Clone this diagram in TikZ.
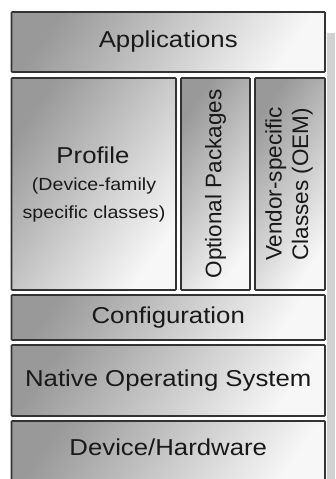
\documentclass[tikz,border=0pt]{standalone}
\usepackage{fontspec}
\setmainfont{Liberation Sans}
\usetikzlibrary{positioning}

% horizontally widened label text
\newcommand{\widetext}[1]{\scalebox{1.12}[1]{#1}}

\tikzset{
  layer/.style={
    draw=black!80, line width=1.6pt, rounded corners=0.8pt,
    top color=black!40, bottom color=black!3, shading angle=55,
    inner sep=0pt, text=black!90, align=center
  },
  bigtext/.style={font=\fontsize{23}{27}\selectfont, text=black!90},
  subtext/.style={font=\fontsize{17.5}{21}\selectfont, text=black!90, anchor=base, inner sep=0pt},
  sidetext/.style={font=\fontsize{22.5}{26.5}\selectfont, rotate=90, text=black!90}
}

\begin{document}
\begin{tikzpicture}[x=1pt, y=-1pt]
  \useasboundingbox (0,0) rectangle (335,479);
  \fill[white] (0,0) rectangle (335,479);
  \clip (0,0) rectangle (335,479);

  % faint shadow strip along the right edge
  \fill[black!18] (327,33) rectangle (335,479);

  % top layer
  \node[layer, bigtext, minimum width=313.5pt, minimum height=60pt]
    (apps) at (168.25,42) {\widetext{Applications}};

  % middle row: profile, optional packages, vendor classes
  \node[layer, minimum width=164.5pt, minimum height=212pt]
    (profile) at (93.75,184) {};
  \node[bigtext, anchor=base, inner sep=0pt] (profiletitle)
    at (93,163.5) {\widetext{Profile}};
  \node[subtext] (profilesub1) at (94,190.5) {\widetext{(Device-family}};
  \node[subtext] (profilesub2) at (94,218.5) {\widetext{specific classes)}};

  \node[layer, minimum width=69pt, minimum height=212pt]
    (optpkg) at (215.5,184) {};
  \node[sidetext] (optpkgtext) at (optpkg.center) {Optional Packages};
  \node[layer, minimum width=70pt, minimum height=212pt]
    (vendor) at (290,184) {};
  \node[sidetext, align=center] (vendortext) at ([xshift=-1pt]vendor.center)
    {Vendor-specific\\Classes (OEM)};

  % lower layers
  \node[layer, bigtext, minimum width=313.5pt, minimum height=45pt]
    (config) at (168.25,317.5) {\widetext{Configuration}};
  \node[layer, bigtext, minimum width=313.5pt, minimum height=71pt]
    (nativeos) at (168.25,380.5) {\widetext{Native Operating System}};
  \node[layer, minimum width=313.5pt, minimum height=70pt]
    (device) at (168.25,456) {};
  \node[bigtext] (devicetext) at ([yshift=-27pt]device.north)
    {\widetext{Device/Hardware}};
\end{tikzpicture}
\end{document}
